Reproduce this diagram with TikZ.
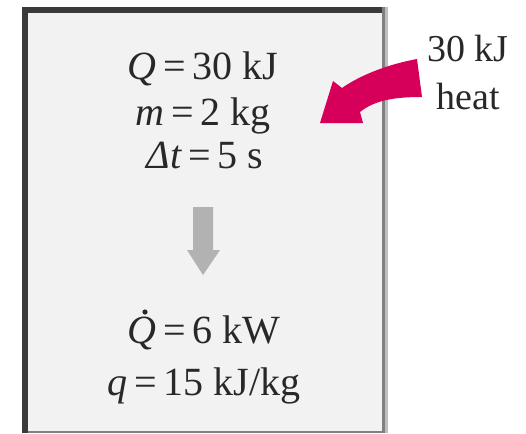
\documentclass[tikz,border=0pt]{standalone}
\usepackage{fontspec}
\setmainfont{Liberation Serif}
\definecolor{boxfill}{RGB}{242,242,242}
\definecolor{darkedge}{RGB}{58,58,58}
\definecolor{grayedge}{RGB}{128,128,128}
\definecolor{lightedge}{RGB}{190,190,190}
\definecolor{heatcol}{RGB}{214,0,90}
\definecolor{arrowgray}{RGB}{178,178,178}
\definecolor{txt}{RGB}{40,40,40}
\tikzset{
  eqline/.style={anchor=base, inner sep=0pt, text=txt, font=\fontsize{40}{44}\selectfont},
  heatlabel/.style={anchor=base, inner sep=0pt, text=txt, font=\fontsize{38}{42}\selectfont},
}
\begin{document}
\begin{tikzpicture}[x=1pt,y=-1pt]
\useasboundingbox (0,0) rectangle (526,433);
% box
\fill[boxfill] (22,7) rectangle (385,433);
\fill[lightedge] (385,7) rectangle (388,433);
\fill[grayedge] (382,7) rectangle (385,433);
\fill[grayedge] (22,431) rectangle (385,433);
\fill[darkedge] (22,7) rectangle (382,13);
\fill[darkedge] (22,7) rectangle (28,433);
% text lines
\node[eqline] (l1) at (203,80) {\textit{Q}\,=\,30 kJ};
\node[eqline] (l2) at (203,125) {\textit{m}\,=\,2 kg};
\node[eqline] (l3) at (205,168) {\textit{Δt}\,=\,5 s};
\node[eqline] (l4) at (204,343) {\textit{Q}\,=\,6 kW};
\node[eqline] (l5) at (204,395) {\textit{q}\,=\,15 kJ/kg};
% dot over Q
\fill[txt] (145,312) circle (2.6);
% gray arrow
\fill[arrowgray] (193,207) -- (213,207) -- (213,250) -- (220,250) -- (203,275) -- (187,250) -- (193,250) -- cycle;
% heat label
\node[heatlabel] (h1) at (468,62) {30 kJ};
\node[heatlabel] (h2) at (468,110) {heat};
% magenta curved arrow
\fill[heatcol] (417,59) .. controls (390,64) and (362,74) .. (342,88)
  -- (333,81) -- (320,123) -- (363,123) -- (360,112)
  .. controls (375,100) and (395,97) .. (422,97) -- cycle;
\end{tikzpicture}
\end{document}
